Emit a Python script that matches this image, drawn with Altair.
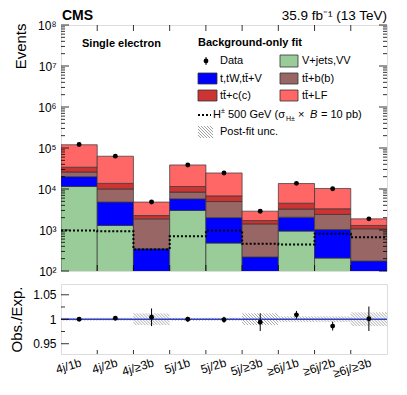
import json
import altair as alt
import pandas as pd

# ---------------- data ----------------
categories = ["4j/1b", "4j/2b", "4j/≥3b", "5j/1b", "5j/2b", "5j/≥3b", "≥6j/1b", "≥6j/2b", "≥6j/≥3b"]
vjets = [11500, 1290, 50, 3000, 480, 40, 940, 207, 40]
single_top = [8500, 3510, 300, 2760, 1520, 180, 1110, 823, 135]
ttbb = [6000, 5200, 1520, 2640, 2950, 1190, 1190, 1370, 895]
ttcc = [8000, 3700, 380, 3100, 1850, 290, 1260, 900, 220]
ttlf = [86000, 49300, 2550, 27100, 17800, 1180, 9100, 7000, 580]
data_obs = [122000, 63200, 4820, 38600, 24580, 2860, 13730, 10150, 1870]
signal = [970, 930, 335, 700, 975, 460, 445, 810, 670]
ratio = [1.000, 1.002, 1.004, 1.000, 0.999, 0.994, 1.009, 0.986, 1.001]
ratio_err = [0.003, 0.004, 0.018, 0.005, 0.006, 0.018, 0.008, 0.009, 0.025]
post_unc = [0.003, 0.003, 0.012, 0.003, 0.003, 0.012, 0.006, 0.006, 0.014]

comp_names = ["V+jets,VV", "t,tW,tt\u0304+V", "tt\u0304+b(b)", "tt\u0304+c(c)", "tt\u0304+LF"]
comp_colors = ["#99cc99", "#0000ff", "#996666", "#cc3333", "#ff6666"]

FONT = "Liberation Sans"
W, H1, H2 = 326, 246, 70
nb = len(categories)
RDOM = [0.929, 1.072]

# ---------------- tables ----------------
rows = []
for i in range(nb):
    lo = 0.0
    for name, vals in zip(comp_names, [vjets, single_top, ttbb, ttcc, ttlf]):
        hi = lo + vals[i]
        rows.append(dict(x0=i, x1=i + 1, lo=max(lo, 1.0), hi=hi, comp=name))
        lo = hi
stack = pd.DataFrame(rows)
sig_df = pd.DataFrame({"x": list(range(nb + 1)), "y": signal + [signal[-1]]})
obs_df = pd.DataFrame({"x": [i + 0.5 for i in range(nb)], "y": data_obs})
rat_df = pd.DataFrame({"x": [i + 0.5 for i in range(nb)], "r": ratio,
                       "lo": [r - e for r, e in zip(ratio, ratio_err)],
                       "hi": [r + e for r, e in zip(ratio, ratio_err)]})

# hatch segments for the post-fit uncertainty band
pxx = W / nb
pxy = H2 / (RDOM[1] - RDOM[0])
seg = []
for i, u in enumerate(post_unc):
    h = 2 * u * pxy
    L, R = i * pxx, (i + 1) * pxx
    xa = L - h
    while xa < R:
        t0 = max(0.0, (L - xa) / h)
        t1 = min(1.0, (R - xa) / h)
        if t1 > t0:
            seg.append(dict(xs=(xa + t0 * h) / pxx, xe=(xa + t1 * h) / pxx,
                            ys=(1 + u) - t0 * 2 * u, ye=(1 + u) - t1 * 2 * u))
        xa += 3.0
seg_df = pd.DataFrame(seg)

edges_df = pd.DataFrame({"e": list(range(1, nb))})
maj_top = pd.DataFrame({"v": [10.0 ** k for k in range(2, 9)]})
min_top = pd.DataFrame({"v": [m * 10.0 ** k for k in range(2, 8) for m in range(2, 10)]})
maj_rat = pd.DataFrame({"v": [0.95, 1.0, 1.05]})
min_rat = pd.DataFrame({"v": [0.975, 1.025]})
one = pd.DataFrame({"a": [0]})

# ---------------- scales / axes ----------------
xs = alt.Scale(domain=[0, nb], nice=False, zero=False)
ys = alt.Scale(type="log", domain=[1e2, 1e8], nice=False)
rs = alt.Scale(domain=RDOM, nice=False, zero=False)

sup = json.dumps(["⁰", "¹", "²", "³", "⁴", "⁵", "⁶", "⁷", "⁸"], ensure_ascii=False)
yax_top = alt.Axis(values=[10.0 ** k for k in range(2, 9)],
                   labelExpr="'10' + " + sup + "[round(log(datum.value)/LN10)]",
                   ticks=False, domain=False, grid=False, labelFontSize=12, labelPadding=5,
                   labelOverlap=False, labelFont=FONT, title="Events", titleFont=FONT,
                   titleFontSize=15, titleFontWeight="normal", titleAngle=-90,
                   titleX=-41, titleY=-2, titleAlign="right", titleBaseline="middle")
yax_rat = alt.Axis(values=[0.95, 1.0, 1.05], format=".2~f", ticks=False, domain=False,
                   grid=False, labelFontSize=12, labelPadding=5, labelFont=FONT,
                   labelOverlap=False, title="Obs./Exp.", titleFont=FONT, titleFontSize=15,
                   titleFontWeight="normal", titleAngle=-90, titleX=-45, titleY=H2 / 2,
                   titleAlign="center", titleBaseline="middle")
cat_js = json.dumps(categories, ensure_ascii=False)
xax_rat = alt.Axis(values=[i + 0.5 for i in range(nb)],
                   labelExpr=cat_js + "[floor(datum.value)]", labelAngle=-17,
                   labelAlign="right", labelBaseline="top", labelFontSize=12,
                   labelFont=FONT, labelPadding=3, labelOverlap=False, labelBound=False,
                   ticks=False, domain=False, grid=False, title=None)


def txt(label, x, y, size=11, weight="normal", align="left", style="normal", baseline="middle"):
    return alt.Chart(one).mark_text(text=label, fontSize=size, fontWeight=weight, align=align,
                                    baseline=baseline, fontStyle=style, font=FONT,
                                    color="black").encode(x=alt.value(x), y=alt.value(y))


def box(x0, x1, y0, y1, color):
    return alt.Chart(one).mark_rect(color=color, stroke="#333", strokeWidth=0.8).encode(
        x=alt.value(x0), x2=alt.value(x1), y=alt.value(y0), y2=alt.value(y1))


def rule(x0, x1, y0, y1, color="black", width=1.0, dash=None):
    kw = dict(color=color, strokeWidth=width)
    if dash:
        kw["strokeDash"] = dash
    return alt.Chart(one).mark_rule(**kw).encode(
        x=alt.value(x0), x2=alt.value(x1), y=alt.value(y0), y2=alt.value(y1))


# ---------------- top panel ----------------
bars = alt.Chart(stack).mark_rect(clip=True, stroke="#333", strokeWidth=0.7).encode(
    x=alt.X("x0:Q", scale=xs, axis=None), x2="x1:Q",
    y=alt.Y("lo:Q", scale=ys, axis=yax_top), y2="hi:Q",
    color=alt.Color("comp:N", scale=alt.Scale(domain=comp_names, range=comp_colors), legend=None))
sig = alt.Chart(sig_df).mark_line(interpolate="step-after", strokeDash=[2, 2], strokeWidth=2,
                                  color="black", clip=True).encode(
    x=alt.X("x:Q", scale=xs, axis=None), y=alt.Y("y:Q", scale=ys, axis=yax_top))
pts = alt.Chart(obs_df).mark_circle(size=24, color="black", opacity=1).encode(
    x=alt.X("x:Q", scale=xs, axis=None), y=alt.Y("y:Q", scale=ys, axis=yax_top))

tick_layers = []
for df, ln in [(maj_top, 8), (min_top, 4)]:
    tick_layers.append(alt.Chart(df).mark_rule(color="black", strokeWidth=0.8).encode(
        y=alt.Y("v:Q", scale=ys, axis=yax_top), x=alt.value(0), x2=alt.value(ln)))
    tick_layers.append(alt.Chart(df).mark_rule(color="black", strokeWidth=0.8).encode(
        y=alt.Y("v:Q", scale=ys, axis=yax_top), x=alt.value(W), x2=alt.value(W - ln)))
tick_layers.append(alt.Chart(edges_df).mark_rule(color="black", strokeWidth=0.8).encode(
    x=alt.X("e:Q", scale=xs, axis=None), y=alt.value(H1), y2=alt.value(H1 - 6)))
tick_layers.append(alt.Chart(edges_df).mark_rule(color="black", strokeWidth=0.8).encode(
    x=alt.X("e:Q", scale=xs, axis=None), y=alt.value(0), y2=alt.value(6)))

legend = [
    txt("CMS", 1, -9, size=14, weight="bold"),
    txt("35.9 fb⁻¹ (13 TeV)", W, -9, size=13.5, align="right"),
    txt("Single electron", 21, 19, weight="bold"),
    txt("Background-only fit", 137, 18, weight="bold"),
    rule(145, 145, 32, 40),
    alt.Chart(one).mark_circle(size=24, color="black", opacity=1).encode(
        x=alt.value(145), y=alt.value(36)),
    txt("Data", 159, 36),
    box(219, 237, 30, 42, comp_colors[0]), txt(comp_names[0], 241, 36),
    box(137, 156, 48, 59, comp_colors[1]), txt(comp_names[1], 159, 54),
    box(219, 237, 48, 59, comp_colors[2]), txt(comp_names[2], 241, 54),
    box(137, 156, 65, 76, comp_colors[3]), txt(comp_names[3], 159, 71),
    box(219, 237, 65, 76, comp_colors[4]), txt(comp_names[4], 241, 71),
    rule(137, 150, 90, 90, width=2, dash=[2, 2]),
    txt("H", 152, 90), txt("±", 160, 86, size=7),
    txt("500 GeV (σ", 167, 90),
    txt("H±", 225, 94, size=7),
    txt("×", 237, 90), txt("B", 249, 90, style="italic"), txt("= 10 pb)", 260, 90),
    txt("Post-fit unc.", 159, 107),
]
# legend hatch swatch
hx0, hx1, hy0, hy1 = 137, 152, 101, 113
hh = hy1 - hy0
xa = hx0 - hh
while xa < hx1:
    t0 = max(0.0, (hx0 - xa) / hh)
    t1 = min(1.0, (hx1 - xa) / hh)
    if t1 > t0:
        legend.append(rule(xa + t0 * hh, xa + t1 * hh, hy0 + t0 * hh, hy0 + t1 * hh,
                           color="#777", width=0.7))
    xa += 3.0

top = alt.layer(bars, sig, pts, *tick_layers, *legend).properties(width=W, height=H1)

# ---------------- ratio panel ----------------
hatch = alt.Chart(seg_df).mark_rule(color="#888", strokeWidth=0.7, clip=True).encode(
    x=alt.X("xs:Q", scale=xs, axis=xax_rat), x2="xe:Q",
    y=alt.Y("ys:Q", scale=rs, axis=yax_rat), y2="ye:Q")
line1 = alt.Chart(pd.DataFrame({"v": [1.0]})).mark_rule(color="#3040c0", strokeWidth=1.5).encode(
    y=alt.Y("v:Q", scale=rs, axis=yax_rat), x=alt.value(0), x2=alt.value(W))
errs = alt.Chart(rat_df).mark_rule(color="black", strokeWidth=1).encode(
    x=alt.X("x:Q", scale=xs, axis=xax_rat), y=alt.Y("lo:Q", scale=rs, axis=yax_rat), y2="hi:Q")
rpts = alt.Chart(rat_df).mark_circle(size=24, color="black", opacity=1).encode(
    x=alt.X("x:Q", scale=xs, axis=xax_rat), y=alt.Y("r:Q", scale=rs, axis=yax_rat))
rticks = []
for df, ln in [(maj_rat, 8), (min_rat, 4)]:
    rticks.append(alt.Chart(df).mark_rule(color="black", strokeWidth=0.8).encode(
        y=alt.Y("v:Q", scale=rs, axis=yax_rat), x=alt.value(0), x2=alt.value(ln)))
rticks.append(alt.Chart(edges_df).mark_rule(color="black", strokeWidth=0.8).encode(
    x=alt.X("e:Q", scale=xs, axis=xax_rat), y=alt.value(H2), y2=alt.value(H2 - 4)))

bottom = alt.layer(hatch, line1, errs, rpts, *rticks).properties(width=W, height=H2)

chart = alt.vconcat(top, bottom, spacing=5).properties(
    padding={"left": 0, "top": 0, "right": 0, "bottom": 0}
).configure_view(stroke="#222", strokeWidth=1).configure(font=FONT)

chart.save("out.html", embed_options={"renderer": "svg", "actions": False})
